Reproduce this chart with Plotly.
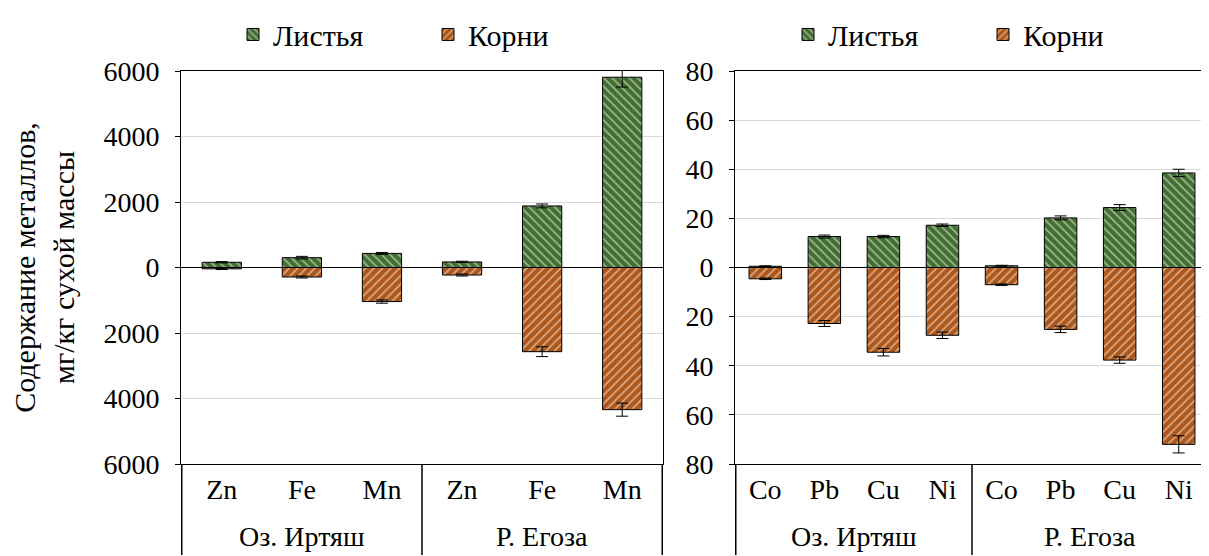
import plotly.graph_objects as go

# ---------------- data ----------------
groups_left = ["Оз. Иртяш"] * 3 + ["Р. Егоза"] * 3
metals_left = ["Zn", "Fe", "Mn", "Zn", "Fe", "Mn"]
leaves_left = [160, 300, 430, 170, 1880, 5810]
leaves_left_err = [20, 40, 30, 20, 60, 300]
roots_left = [40, 290, 1040, 230, 2570, 4340]
roots_left_err = [20, 30, 50, 30, 150, 200]

groups_right = ["Оз. Иртяш"] * 4 + ["Р. Егоза"] * 4
metals_right = ["Co", "Pb", "Cu", "Ni", "Co", "Pb", "Cu", "Ni"]
leaves_right = [0.5, 12.6, 12.6, 17.2, 0.7, 20.2, 24.4, 38.5]
leaves_right_err = [0.2, 0.6, 0.5, 0.5, 0.2, 0.8, 1.2, 1.5]
roots_right = [4.6, 22.8, 34.5, 27.6, 7.0, 25.2, 37.7, 72.0]
roots_right_err = [0.3, 1.2, 1.5, 1.3, 0.3, 1.3, 1.3, 3.5]

left_ticks = [-6000, -4000, -2000, 0, 2000, 4000, 6000]
right_ticks = [-80, -60, -40, -20, 0, 20, 40, 60, 80]

GREEN = "#426F30"
ORANGE = "#AD5718"
FONT = "Liberation Serif, Times New Roman, serif"

# the page body adds an 8px margin, so the figure is 8px smaller
W, H = 1201, 548
PLOT_H = 397
B = 92

fig = go.Figure()


def keys(groups, metals):
    return [f"{g}|{m}" for g, m in zip(groups, metals)]


def add_bar(x, vals, errs, name, color, shape, xa, ya, legend, width):
    fig.add_trace(go.Bar(
        x=x, y=vals, name=name, width=width,
        xaxis=xa, yaxis=ya, legend=legend,
        marker=dict(color=color, line=dict(color="black", width=1),
                    pattern=dict(shape=shape, fgcolor="white", size=6,
                                 solidity=0.28, fillmode="overlay")),
        error_y=dict(type="data", array=errs, color="black",
                     thickness=1, width=6),
    ))


xl = keys(groups_left, metals_left)
xr = keys(groups_right, metals_right)
add_bar(xl, leaves_left, leaves_left_err, "Листья", GREEN, "\\", "x", "y", "legend", 0.49)
add_bar(xl, [-v for v in roots_left], roots_left_err, "Корни", ORANGE, "/", "x", "y", "legend", 0.49)
add_bar(xr, leaves_right, leaves_right_err, "Листья", GREEN, "\\", "x2", "y2", "legend2", 0.55)
add_bar(xr, [-v for v in roots_right], roots_right_err, "Корни", ORANGE, "/", "x2", "y2", "legend2", 0.55)

xaxis_common = dict(
    type="category", showline=True, linecolor="black", linewidth=1,
    mirror=True, ticks="", showgrid=False, automargin=False,
    tickfont=dict(family=FONT, size=28, color="black"),
    ticklabelstandoff=0,
)
yaxis_common = dict(
    showgrid=True, gridcolor="#d9d9d9", gridwidth=1,
    zeroline=True, zerolinecolor="black", zerolinewidth=1,
    showline=True, linecolor="black", linewidth=1, mirror=True,
    ticks="outside", ticklen=5, tickcolor="black", automargin=False,
    tickfont=dict(family=FONT, size=28, color="black"),
    ticklabelstandoff=10,
)

legend_common = dict(
    orientation="h", yanchor="middle", y=1.093, xanchor="left",
    font=dict(family=FONT, size=30, color="black"),
    bgcolor="rgba(0,0,0,0)", traceorder="normal",
    entrywidth=150, entrywidthmode="pixels",
)

fig.update_layout(
    width=W, height=H, autosize=False,
    margin=dict(l=0, r=0, t=59, b=B),
    paper_bgcolor="white", plot_bgcolor="white",
    barmode="relative",
    font=dict(family=FONT, size=28, color="black"),
    xaxis=dict(domain=[173 / W, 655 / W], anchor="y",
               tickvals=xl, ticktext=metals_left, **xaxis_common),
    yaxis=dict(domain=[0, 1], anchor="x", range=[-6000, 6000],
               tickvals=left_ticks, ticktext=[str(abs(v)) for v in left_ticks],
               title=dict(text="Содержание металлов,<br>мг/кг сухой массы",
                          font=dict(family=FONT, size=30, color="black"),
                          standoff=32),
               **yaxis_common),
    xaxis2=dict(domain=[727 / W, 1.0], anchor="y2",
                tickvals=xr, ticktext=metals_right, **xaxis_common),
    yaxis2=dict(domain=[0, 1], anchor="x2", range=[-80, 80],
                tickvals=right_ticks, ticktext=[str(abs(v)) for v in right_ticks],
                **yaxis_common),
    legend=dict(x=225 / W, **legend_common),
    legend2=dict(x=780 / W, **legend_common),
)

# group labels and table dividers under each category axis
group_y = -(529 - 456) / PLOT_H
line_bottom = -B / PLOT_H
for xref, groups in (("x", groups_left), ("x2", groups_right)):
    names = list(dict.fromkeys(groups))
    edges = [-0.5]
    for name in names:
        idx = [i for i, g in enumerate(groups) if g == name]
        fig.add_annotation(x=(idx[0] + idx[-1]) / 2, y=group_y, xref=xref, yref="paper",
                           text=name, showarrow=False, yanchor="middle",
                           font=dict(family=FONT, size=28, color="black"))
        edges.append(idx[-1] + 0.5)
    for e in edges:
        fig.add_shape(type="line", xref=xref, yref="paper", x0=e, x1=e,
                      y0=0, y1=line_bottom, line=dict(color="black", width=1.5))

fig.write_html("out.html")
